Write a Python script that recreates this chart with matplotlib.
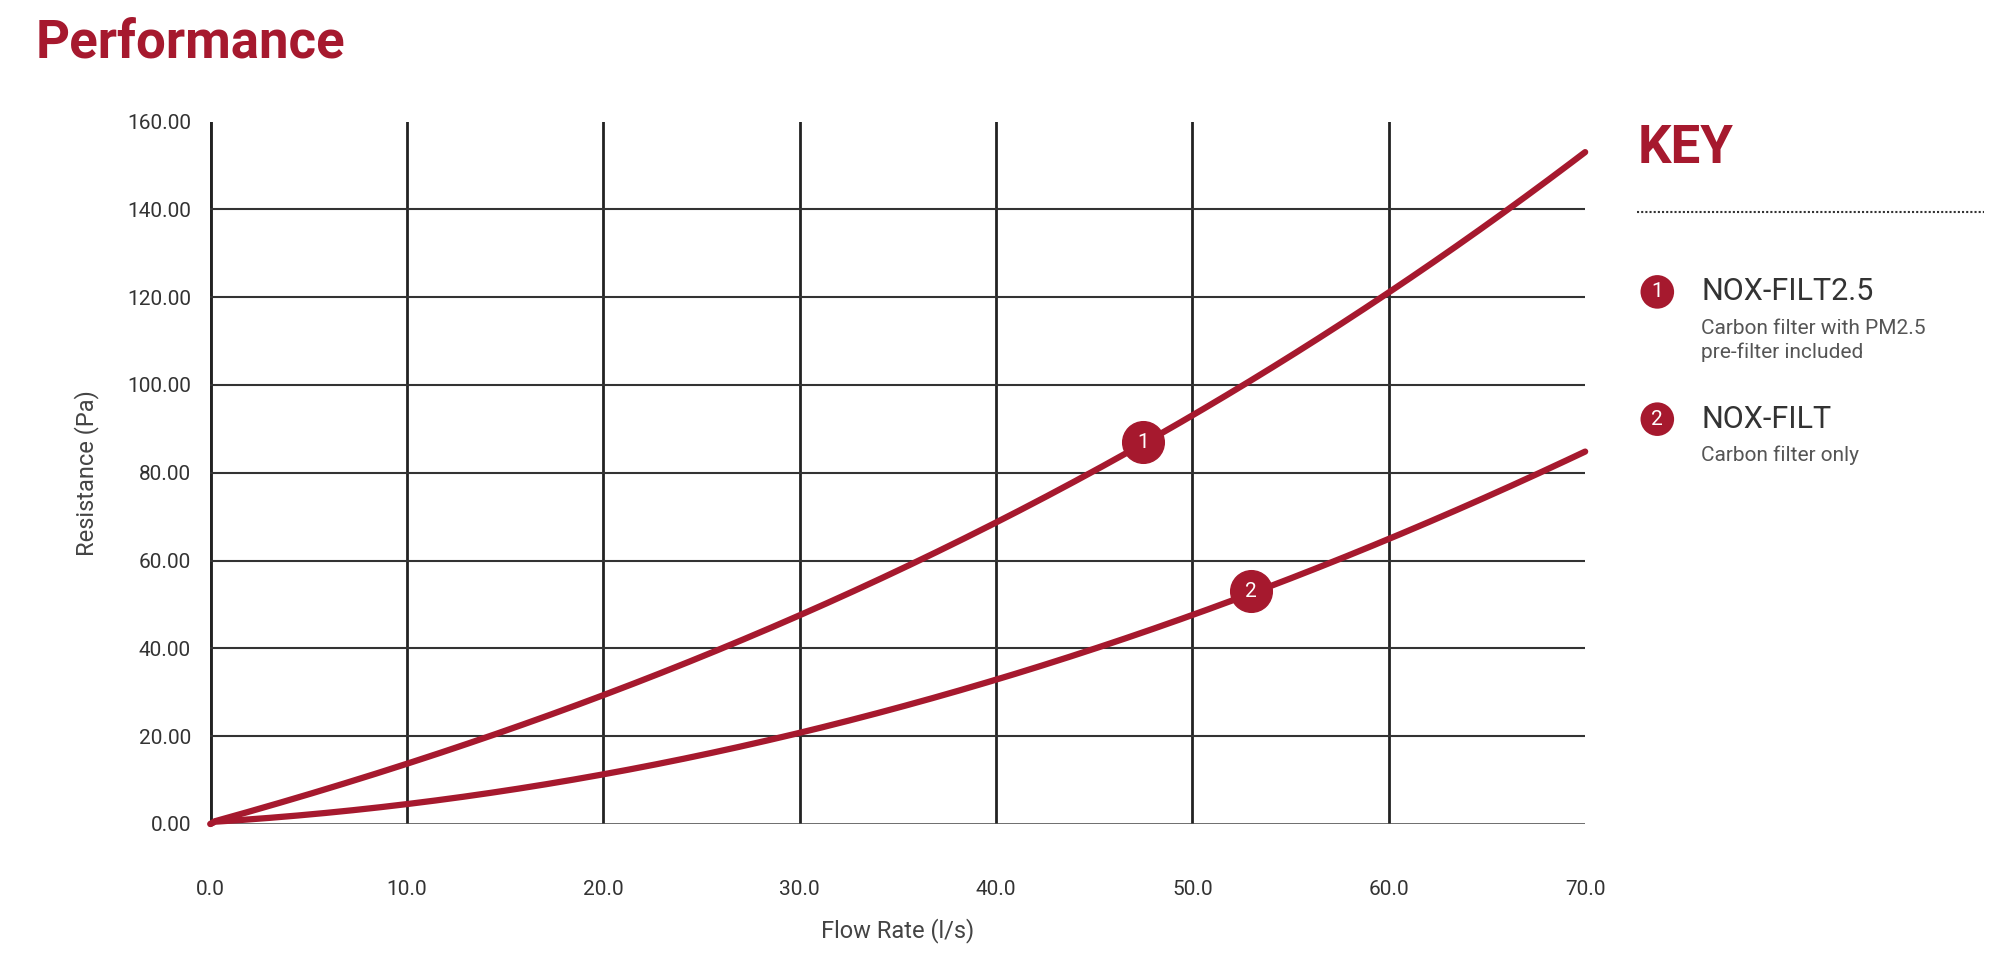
import matplotlib
matplotlib.use("Agg")
import matplotlib.pyplot as plt
import numpy as np

plt.rcParams['font.family'] = ['Roboto', 'DejaVu Sans']
RED = '#A6192E'

flow1 = [0, 10, 20, 25, 30, 40, 47.5, 50, 60, 70]
res1 = [0, 14.5, 29.5, 37.5, 47, 69, 87, 93, 121, 153]
flow2 = [0, 10, 20, 25, 30, 40, 50, 53, 60, 70]
res2 = [0, 5.5, 11.5, 15, 20.5, 33, 47, 53, 65.5, 84.5]
markers = [(47.5, 87, '1'), (53, 53, '2')]
xticks = [0, 10, 20, 30, 40, 50, 60, 70]
yticks = [0, 20, 40, 60, 80, 100, 120, 140, 160]

fig = plt.figure(figsize=(20.04, 9.57), dpi=100)
ax = fig.add_axes([0.105, 0.139, 0.686, 0.734])
ax.set_xlim(0, 70)
ax.set_ylim(0, 160)
for s in ax.spines.values():
    s.set_visible(False)
ax.axvline(0, color='#222', lw=3.5)
for x in xticks[1:-1]:
    ax.axvline(x, color='#222', lw=2)
for y in yticks[1:-1]:
    ax.axhline(y, color='#333', lw=1.5)
ax.axhline(0, color='#555', lw=1.2)

def smooth(xs, ys):
    xx = np.linspace(0, 70, 300)
    from numpy.polynomial import polynomial as P
    c = np.polyfit(xs, ys, 3)
    return xx, np.polyval(c, xx)

for xs, ys in [(flow1, res1), (flow2, res2)]:
    xx, yy = smooth(xs, ys)
    yy[0] = 0
    ax.plot(xx, yy, color=RED, lw=4.5, solid_capstyle='round', clip_on=False)
for x, y, t in markers:
    ax.plot(x, y, 'o', ms=30, color=RED, zorder=5)
    ax.text(x, y, t, color='white', ha='center', va='center', fontsize=15, zorder=6)

ax.set_xticks(xticks)
ax.set_xticklabels([f"{v:.1f}" for v in xticks], fontsize=15, color='#333')
ax.set_yticks(yticks)
ax.set_yticklabels([f"{v:.2f}" for v in yticks], fontsize=15, color='#333')
ax.tick_params(length=0, pad=14)
ax.tick_params(axis='x', pad=40)
ax.set_xlabel('Flow Rate (l/s)', fontsize=17, color='#444', labelpad=14)
ax.set_ylabel('Resistance (Pa)', fontsize=17, color='#444', labelpad=20)

fig.text(0.018, 0.955, 'Performance', fontsize=38, fontweight='bold', color=RED, va='center')
fig.text(0.817, 0.845, 'KEY', fontsize=38, fontweight='bold', color=RED, va='center')
fig.add_artist(plt.Line2D([0.817, 0.99], [0.778, 0.778], color='#333', lw=1.5, ls=(0, (1, 1))))
entries = [(0.695, '1', 'NOX-FILT2.5', 'Carbon filter with PM2.5\npre-filter included'),
           (0.562, '2', 'NOX-FILT', 'Carbon filter only')]
for y, n, name, desc in entries:
    fig.text(0.827, y, n, color='white', fontsize=15, ha='center', va='center',
             bbox=dict(boxstyle='circle,pad=0.35', fc=RED, ec='none'))
    fig.text(0.849, y, name, fontsize=22, color='#333', va='center')
    fig.text(0.849, y - 0.028, desc, fontsize=15, color='#555', va='top', linespacing=1.3)

fig.savefig('out.png', dpi=100)
